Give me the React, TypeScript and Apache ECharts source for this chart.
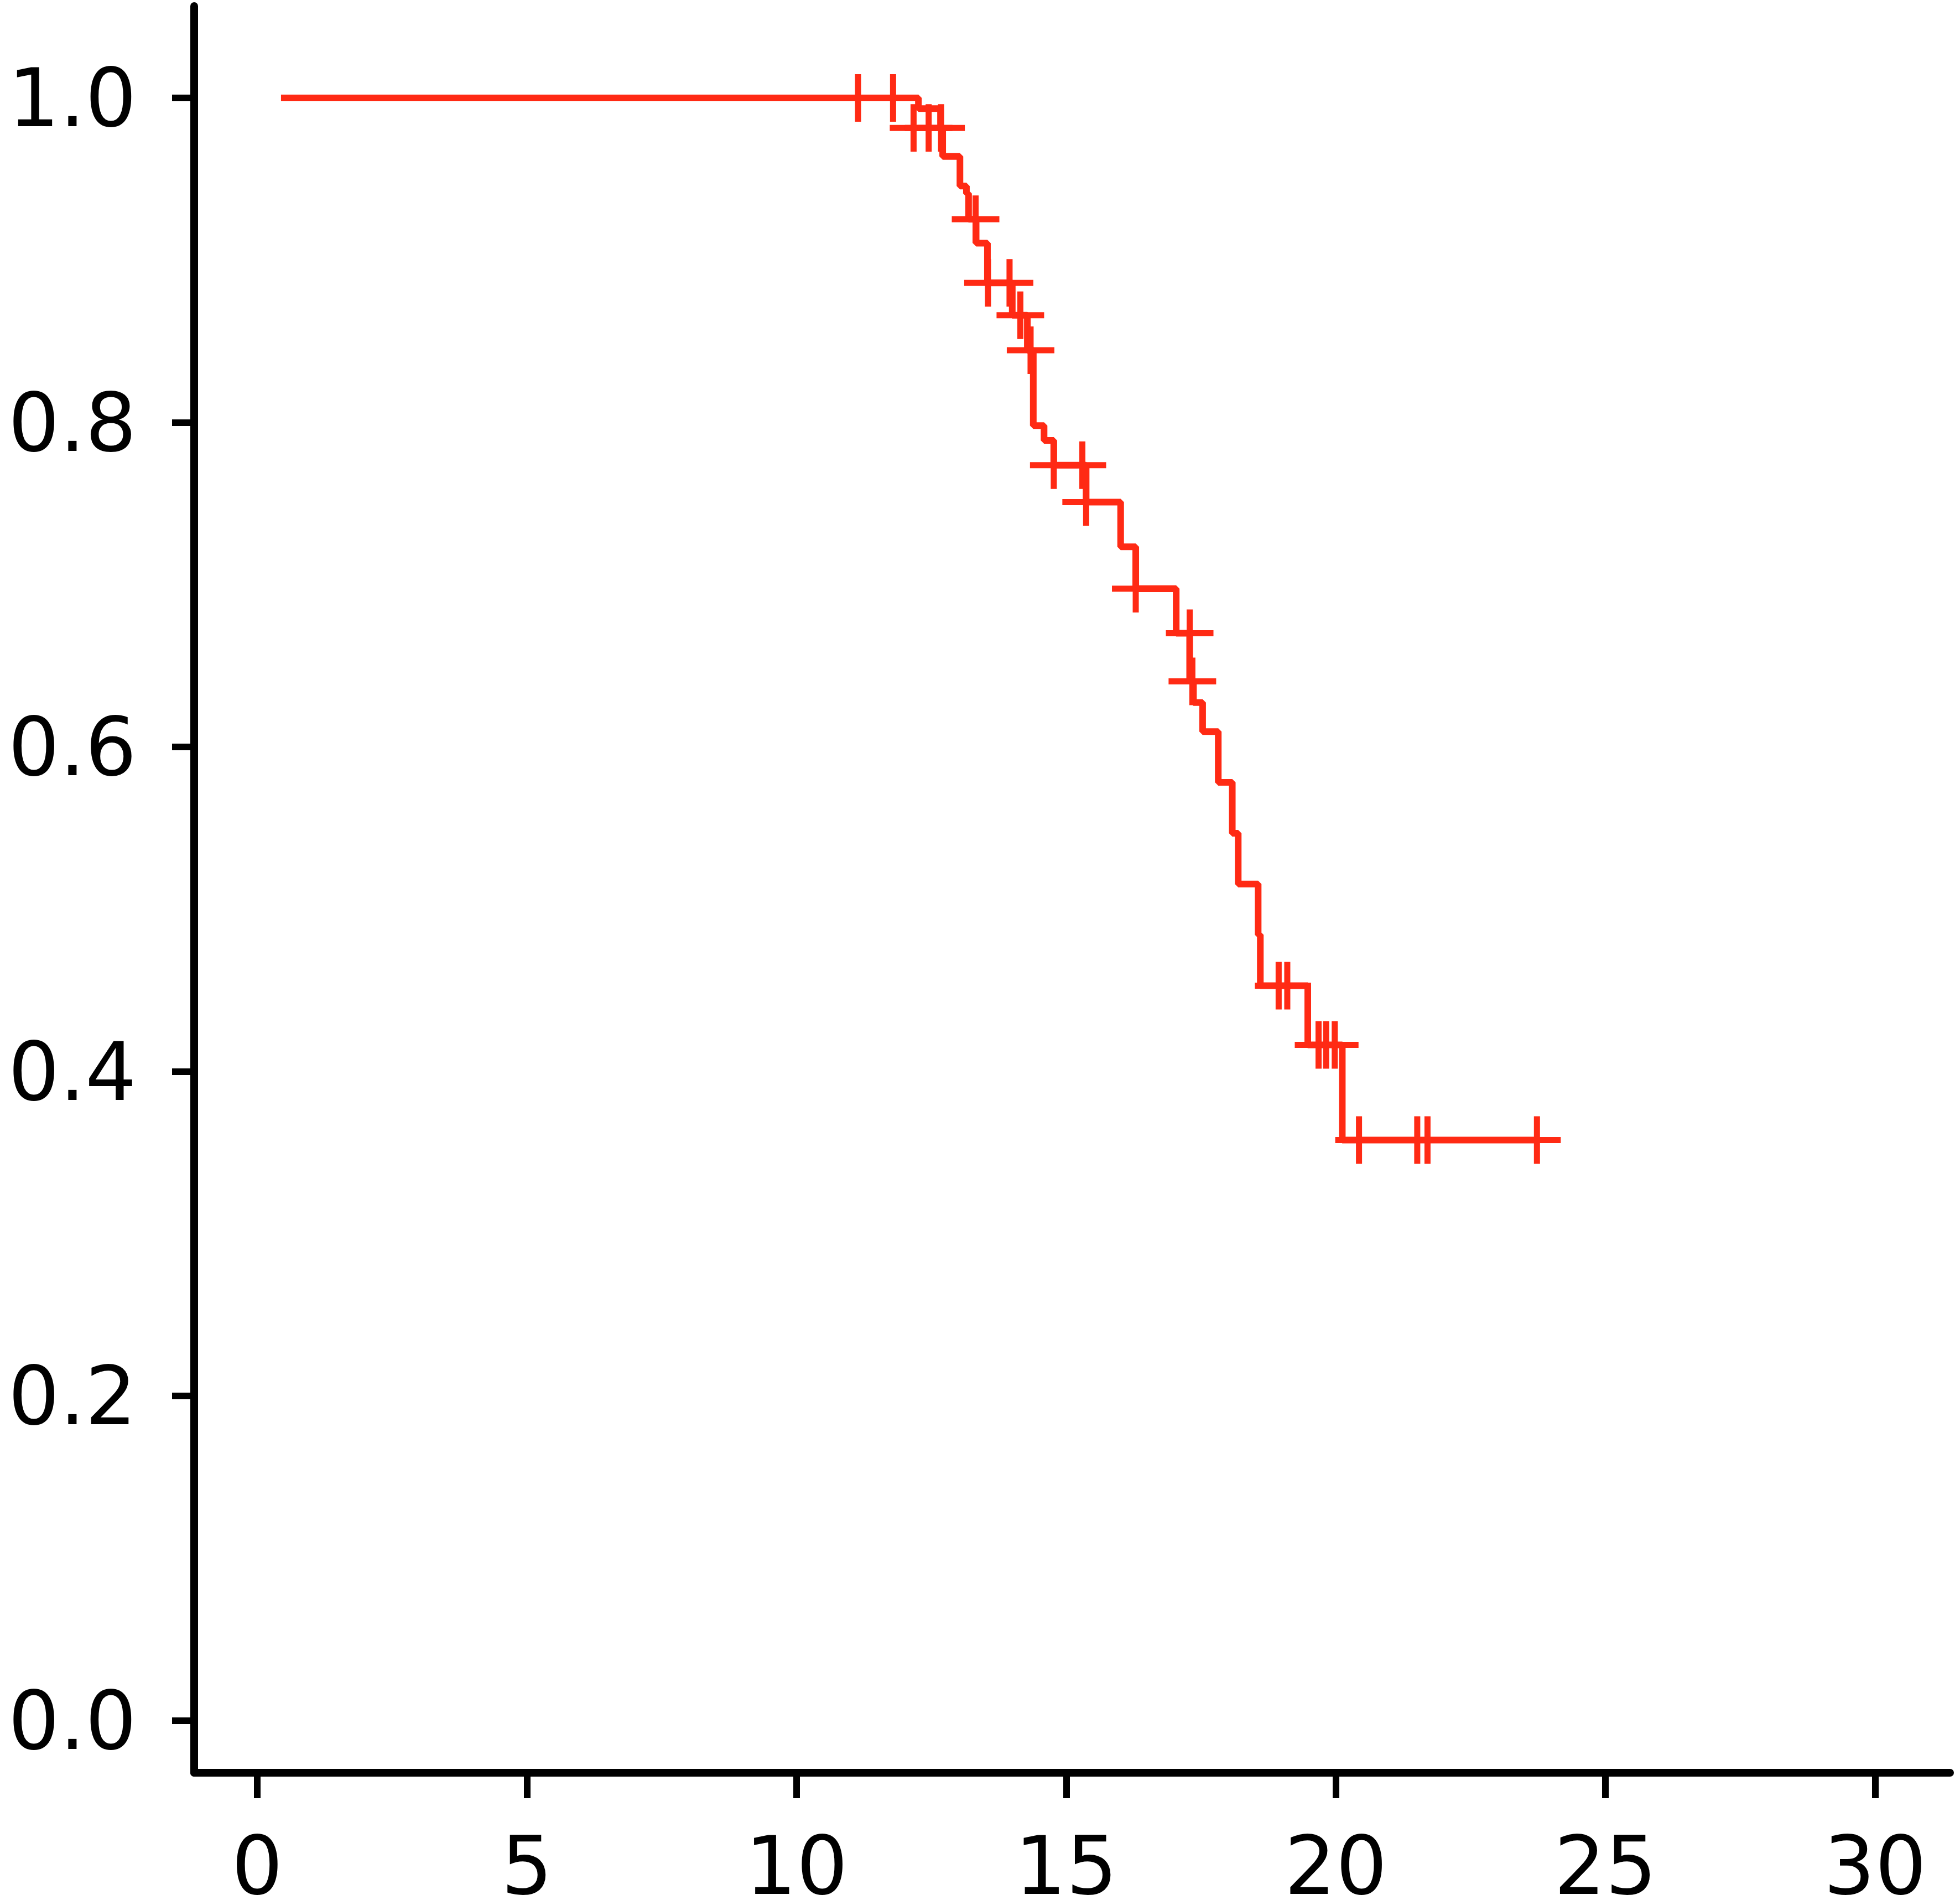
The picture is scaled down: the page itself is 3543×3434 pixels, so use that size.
import React, { useEffect, useRef } from "react";
import * as echarts from "echarts";

// Kaplan–Meier step curve: time of each step and survival after it
const stepTimes = [
  0.44, 12.26, 12.67, 12.71, 13.03, 13.15, 13.19, 13.33, 13.54, 14.0, 14.28,
  14.39, 14.59, 14.77, 15.37, 16.01, 16.29, 17.04, 17.29, 17.36, 17.53, 17.82,
  18.08, 18.19, 18.56, 18.6, 19.48, 20.12, 23.73,
];
const stepSurvival = [
  1.0, 0.9934, 0.9815, 0.9639, 0.9457, 0.9411, 0.9252, 0.9105, 0.886, 0.8661,
  0.8445, 0.798, 0.7889, 0.7737, 0.7509, 0.7234, 0.6975, 0.6701, 0.6404,
  0.6274, 0.6095, 0.5782, 0.5468, 0.5155, 0.4842, 0.4529, 0.4164, 0.3577,
  0.3577,
];

// Censored observations (plus marks)
const censorTimes = [
  11.14, 11.79, 12.17, 12.45, 12.68, 13.32, 13.55, 13.95, 14.15, 14.34, 14.77,
  15.3, 15.37, 16.29, 17.29, 17.34, 18.94, 19.1, 19.68, 19.82, 19.98, 20.43,
  21.51, 21.7, 23.73,
];
const censorSurvival = [
  1.0, 1.0, 0.9815, 0.9815, 0.9815, 0.9252, 0.886, 0.886, 0.8661, 0.8445,
  0.7737, 0.7737, 0.7509, 0.6975, 0.6701, 0.6404, 0.4529, 0.4529, 0.4164,
  0.4164, 0.4164, 0.3577, 0.3577, 0.3577, 0.3577,
];

const xTicks = [0, 5, 10, 15, 20, 25, 30];
const yTicks = [0, 0.2, 0.4, 0.6, 0.8, 1.0];

const RED = "#ff2a14";
const PLUS = "path://M37.5,0H48.5V37.5H86V48.5H48.5V86H37.5V48.5H0V37.5H37.5Z";

export default function App() {
  const ref = useRef<HTMLDivElement>(null);
  useEffect(() => {
    if (!ref.current) return;
    const chart = echarts.init(ref.current, null, { renderer: "svg" });
    const labelFont = {
      color: "#000",
      fontFamily: "DejaVu Sans",
      fontSize: 146,
    };
    chart.setOption({
      animation: false,
      backgroundColor: "#fff",
      grid: {
        left: 351,
        top: 11,
        right: 18,
        bottom: 230,
        containLabel: false,
        outerBoundsMode: "none",
      },
      xAxis: {
        type: "value",
        min: -1.17,
        max: 31.39,
        axisLine: { onZero: false, lineStyle: { color: "#000", width: 14 } },
        axisTick: {
          customValues: xTicks,
          length: 46,
          lineStyle: { color: "#000", width: 12 },
        },
        axisLabel: {
          customValues: xTicks,
          margin: 95,
          ...labelFont,
          formatter: (v: number) => String(v),
        },
        splitLine: { show: false },
      },
      yAxis: {
        type: "value",
        min: -0.0322,
        max: 1.0566,
        axisLine: { onZero: false, lineStyle: { color: "#000", width: 14 } },
        axisTick: {
          customValues: yTicks,
          length: 40,
          lineStyle: { color: "#000", width: 12 },
        },
        axisLabel: {
          customValues: yTicks,
          margin: 104,
          ...labelFont,
          formatter: (v: number) => v.toFixed(1),
        },
        splitLine: { show: false },
      },
      series: [
        {
          type: "line",
          step: "end",
          showSymbol: false,
          data: stepTimes.map((t, i) => [t, stepSurvival[i]]),
          lineStyle: { color: RED, width: 12 },
          itemStyle: { color: RED },
        },
        {
          type: "scatter",
          symbol: PLUS,
          symbolSize: 86,
          data: censorTimes.map((t, i) => [t, censorSurvival[i]]),
          itemStyle: { color: RED, opacity: 1 },
        },
      ],
    });
    return () => chart.dispose();
  }, []);
  return (
    <div
      ref={ref}
      style={{
        position: "fixed",
        left: 0,
        top: 0,
        width: 3543,
        height: 3434,
        background: "#fff",
      }}
    />
  );
}
